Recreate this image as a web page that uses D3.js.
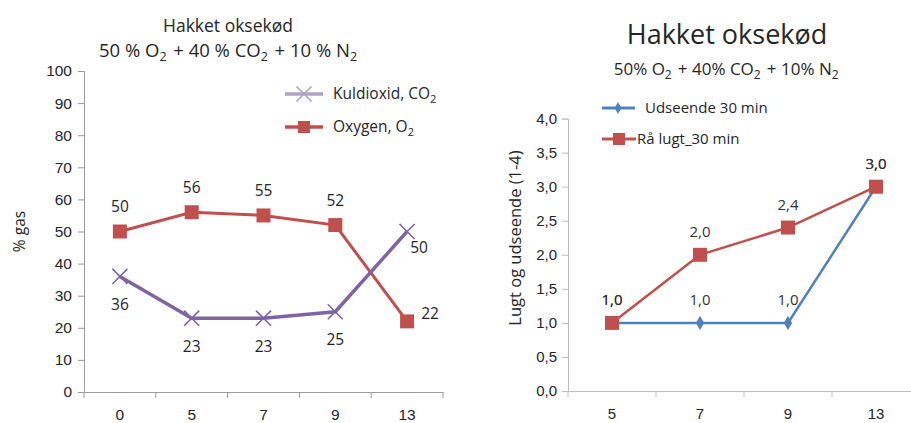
<!DOCTYPE html>
<html>
<head>
<meta charset="utf-8">
<script src="https://cdn.jsdelivr.net/npm/d3@7"></script>
<style>
  html, body { margin: 0; padding: 0; background: #fff; }
  svg { display: block; font-family: "Open Sans", "Liberation Sans", sans-serif; }
</style>
</head>
<body>
<svg id="chart" width="911" height="423"></svg>
<script>
// ---- Left chart: gas composition over storage days ----
const gasDays = ["0", "5", "7", "9", "13"];
const co2Values = [36, 23, 23, 25, 50];
const o2Values = [50, 56, 55, 52, 22];
const co2LabelPlace = ["below", "below", "below", "below", "belowRight"];
const o2LabelPlace = ["above", "above", "above", "above", "right"];
const gasTicks = [0, 10, 20, 30, 40, 50, 60, 70, 80, 90, 100];
const gasTitle = "Hakket oksekød";
const gasSubtitle = "50 % O_2 + 40 % CO_2 + 10 % N_2";
const gasYLabel = "% gas";
const co2Name = "Kuldioxid, CO_2";
const o2Name = "Oxygen, O_2";

// ---- Right chart: sensory scores ----
const sensDays = ["5", "7", "9", "13"];
const udseendeValues = [1.0, 1.0, 1.0, 3.0];
const lugtValues = [1.0, 2.0, 2.4, 3.0];
const sensTicks = [0, 0.5, 1, 1.5, 2, 2.5, 3, 3.5, 4];
const sensTitle = "Hakket oksekød";
const sensSubtitle = "50% O_2 + 40% CO_2 + 10% N_2";
const sensYLabel = "Lugt og udseende (1-4)";
const udseendeName = "Udseende  30 min";
const lugtName = "Rå lugt_30 min";

const RED = "#C0504D", PURPLE = "#8064A2", PURPLE_LIGHT = "#B3A2C7", BLUE = "#4F81BD";
const AXIS = "#9A9A9A", TEXT = "#262626";
const fmtComma = d => d3.format(".1f")(d).replace(".", ",");

const svg = d3.select("#chart");

// Write a string with "_2" style subscripts as tspans (shift given in px)
function richText(sel, str, subSize, shift) {
  const parts = str.split(/(_\d)/);
  parts.forEach(p => {
    if (!p) return;
    if (p.startsWith("_")) {
      sel.append("tspan").attr("dy", shift).attr("font-size", subSize).text(p.slice(1));
      sel.append("tspan").attr("dy", -shift).text("\u200A");
    } else {
      sel.append("tspan").text(p);
    }
  });
  return sel;
}

// ================= LEFT CHART =================
{
  const x = d3.scaleBand().domain(gasDays).range([84, 443]);
  const y = d3.scaleLinear().domain([0, 100]).range([392, 71]);
  const g = svg.append("g");

  const ya = g.append("g").attr("transform", `translate(${x.range()[0]},0)`)
    .call(d3.axisLeft(y).tickValues(gasTicks).tickSize(6).tickPadding(6));
  const xa = g.append("g").attr("transform", `translate(0,${y(0)})`)
    .call(d3.axisBottom(x).tickSize(0).tickPadding(17));
  [ya, xa].forEach(a => {
    a.select(".domain").attr("stroke", AXIS);
    a.selectAll(".tick line").attr("stroke", AXIS);
    a.selectAll(".tick text").attr("fill", TEXT).attr("font-size", 15.5);
  });
  // x ticks sit on the category boundaries
  const bounds = gasDays.map(d => x(d)).concat([x.range()[1]]);
  g.append("g").selectAll("line").data(bounds).join("line")
    .attr("x1", d => d).attr("x2", d => d)
    .attr("y1", y(0)).attr("y2", y(0) + 6).attr("stroke", AXIS);

  g.append("text").attr("transform", `translate(25,${(y(0) + y(100)) / 2}) rotate(-90)`)
    .attr("text-anchor", "middle").attr("fill", TEXT).attr("font-size", 15.5).text(gasYLabel);

  g.append("text").attr("x", 228).attr("y", 32).attr("text-anchor", "middle")
    .attr("fill", TEXT).attr("font-size", 17.5).text(gasTitle);
  richText(g.append("text").attr("x", 229).attr("y", 57).attr("text-anchor", "middle")
    .attr("fill", TEXT).attr("font-size", 18.5), gasSubtitle, 12.5, 4);

  const cx = d => x(d) + x.bandwidth() / 2;
  const line = d3.line().x((d, i) => cx(gasDays[i])).y(d => y(d));

  // O2 series
  g.append("path").datum(o2Values).attr("d", line).attr("fill", "none")
    .attr("stroke", RED).attr("stroke-width", 3);
  g.append("g").selectAll("rect").data(o2Values).join("rect")
    .attr("x", (d, i) => cx(gasDays[i]) - 7).attr("y", d => y(d) - 7)
    .attr("width", 14).attr("height", 14).attr("fill", RED);

  // CO2 series
  g.append("path").datum(co2Values).attr("d", line).attr("fill", "none")
    .attr("stroke", PURPLE).attr("stroke-width", 3.5);
  const xMark = d3.symbol().type(d3.symbolTimes).size(150);
  g.append("g").selectAll("path").data(co2Values).join("path")
    .attr("d", xMark)
    .attr("transform", (d, i) => `translate(${cx(gasDays[i])},${y(d)})`)
    .attr("fill", "none").attr("stroke", PURPLE).attr("stroke-width", 1.6);

  // data labels
  const offs = { above: [0, -25], below: [0, 28], belowRight: [12, 16], right: [23, -8] };
  function labels(vals, place) {
    g.append("g").selectAll("text").data(vals).join("text")
      .attr("x", (d, i) => cx(gasDays[i]) + offs[place[i]][0])
      .attr("y", (d, i) => y(d) + offs[place[i]][1])
      .attr("dy", "0.35em").attr("text-anchor", "middle")
      .attr("fill", TEXT).attr("font-size", 15.5).text(d => d);
  }
  labels(o2Values, o2LabelPlace);
  labels(co2Values, co2LabelPlace);

  // legend
  const lg = g.append("g");
  const items = [
    { name: co2Name, color: PURPLE_LIGHT, kind: "x", y: 94 },
    { name: o2Name, color: RED, kind: "sq", y: 127 }
  ];
  items.forEach(it => {
    lg.append("line").attr("x1", 285).attr("x2", 323).attr("y1", it.y).attr("y2", it.y)
      .attr("stroke", it.color).attr("stroke-width", 3.5);
    if (it.kind === "x") {
      lg.append("path").attr("d", d3.symbol().type(d3.symbolTimes).size(150))
        .attr("transform", `translate(304,${it.y})`).attr("fill", "none")
        .attr("stroke", it.color).attr("stroke-width", 1.6);
    } else {
      lg.append("rect").attr("x", 298).attr("y", it.y - 6).attr("width", 12).attr("height", 12)
        .attr("fill", it.color);
    }
    richText(lg.append("text").attr("x", 333).attr("y", it.y).attr("dy", "0.35em")
      .attr("fill", TEXT).attr("font-size", 15.5), it.name, 11, 3.5);
  });
}

// ================= RIGHT CHART =================
{
  const x = d3.scaleBand().domain(sensDays).range([568, 920]);
  const y = d3.scaleLinear().domain([0, 4]).range([391, 118.6]);
  const g = svg.append("g");
  const GRID = "#BDBDBD";

  const ya = g.append("g").attr("transform", `translate(${x.range()[0]},0)`)
    .call(d3.axisLeft(y).tickValues(sensTicks).tickFormat(fmtComma).tickSize(6).tickPadding(5));
  const xa = g.append("g").attr("transform", `translate(0,${y(0)})`)
    .call(d3.axisBottom(x).tickSize(0).tickPadding(17));
  [ya, xa].forEach(a => {
    a.select(".domain").attr("stroke", GRID);
    a.selectAll(".tick line").attr("stroke", GRID);
    a.selectAll(".tick text").attr("fill", TEXT).attr("font-size", 15);
  });
  const bounds = sensDays.map(d => x(d)).concat([x.range()[1]]);
  g.append("g").selectAll("line").data(bounds).join("line")
    .attr("x1", d => d).attr("x2", d => d)
    .attr("y1", y(0)).attr("y2", y(0) + 6).attr("stroke", GRID);

  g.append("text").attr("transform", `translate(515,238) rotate(-90)`)
    .attr("text-anchor", "middle").attr("dy", "0.35em").attr("fill", TEXT)
    .attr("font-size", 16.5).text(sensYLabel);

  g.append("text").attr("x", 727).attr("y", 44).attr("text-anchor", "middle")
    .attr("fill", TEXT).attr("font-size", 27).text(sensTitle);
  richText(g.append("text").attr("x", 727).attr("y", 75).attr("text-anchor", "middle")
    .attr("fill", TEXT).attr("font-size", 17), sensSubtitle, 12, 4);

  const cx = d => x(d) + x.bandwidth() / 2;
  const line = d3.line().x((d, i) => cx(sensDays[i])).y(d => y(d));

  g.append("path").datum(udseendeValues).attr("d", line).attr("fill", "none")
    .attr("stroke", BLUE).attr("stroke-width", 2.5);
  g.append("g").selectAll("path").data(udseendeValues).join("path")
    .attr("d", d3.symbol().type(d3.symbolDiamond).size(60))
    .attr("transform", (d, i) => `translate(${cx(sensDays[i])},${y(d)})`)
    .attr("fill", BLUE);

  g.append("path").datum(lugtValues).attr("d", line).attr("fill", "none")
    .attr("stroke", RED).attr("stroke-width", 2.5);
  g.append("g").selectAll("rect").data(lugtValues).join("rect")
    .attr("x", (d, i) => cx(sensDays[i]) - 7).attr("y", d => y(d) - 7)
    .attr("width", 14).attr("height", 14).attr("fill", RED);

  function labels(vals) {
    g.append("g").selectAll("text").data(vals).join("text")
      .attr("x", (d, i) => cx(sensDays[i])).attr("y", d => y(d) - 23)
      .attr("dy", "0.35em").attr("text-anchor", "middle")
      .attr("fill", "#333").attr("font-size", 15).attr("font-weight", 500).text(fmtComma);
  }
  labels(udseendeValues);
  labels(lugtValues);

  const lg = g.append("g");
  lg.append("line").attr("x1", 602).attr("x2", 635).attr("y1", 108).attr("y2", 108)
    .attr("stroke", BLUE).attr("stroke-width", 3);
  lg.append("path").attr("d", d3.symbol().type(d3.symbolDiamond).size(40))
    .attr("transform", "translate(618,108)").attr("fill", BLUE);
  lg.append("text").attr("x", 645).attr("y", 108).attr("dy", "0.35em")
    .attr("fill", TEXT).attr("font-size", 15).text(udseendeName);
  lg.append("line").attr("x1", 602).attr("x2", 636).attr("y1", 139).attr("y2", 139)
    .attr("stroke", RED).attr("stroke-width", 3);
  lg.append("rect").attr("x", 613).attr("y", 133).attr("width", 12).attr("height", 12).attr("fill", RED);
  lg.append("text").attr("x", 637).attr("y", 139).attr("dy", "0.35em")
    .attr("fill", TEXT).attr("font-size", 15).text(lugtName);
}
</script>
</body>
</html>
